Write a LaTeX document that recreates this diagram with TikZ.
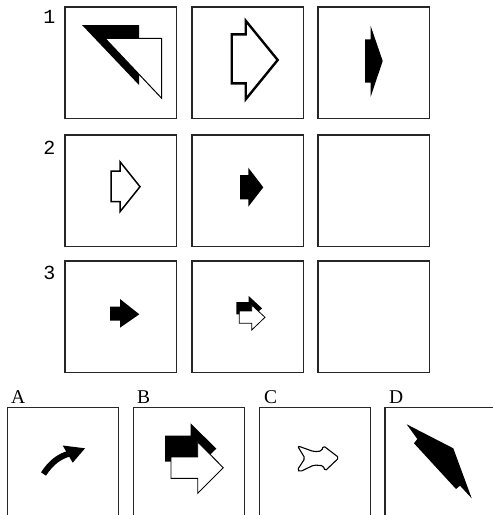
\documentclass[tikz,border=0pt]{standalone}
\usepackage{fontspec}
\newfontfamily\numfont{Liberation Mono}
\newfontfamily\letfont{Liberation Serif}
\begin{document}
\begin{tikzpicture}[x=1pt,y=-1pt,
  frame/.style={draw=black!85,line width=1.3pt},
  outl/.style={draw=black,fill=white,line width=1pt,line join=miter},
  solid/.style={fill=black},
  numlab/.style={font=\numfont\fontsize{20}{20}\selectfont,inner sep=0pt},
  letlab/.style={font=\letfont\fontsize{19.5}{19.5}\selectfont,inner sep=0pt}]
\useasboundingbox (0,0) rectangle (493,515);

% grid frames
\foreach \x in {65,192,318}{
  \foreach \y in {7,135,261}{
    \draw[frame] (\x,\y) rectangle ++(111.5,111.5);
  }
}
\node[numlab,anchor=south] (n1) at (49.5,23.5) {1};
\node[numlab,anchor=south] (n2) at (49.5,154.5) {2};
\node[numlab,anchor=south] (n3) at (49.5,280) {3};

% row 1, box 1
\fill[solid] (82,25) -- (139,25) -- (139,85) -- cycle;
\draw[outl] (105,38.3) -- (161.7,38.3) -- (161.7,98.3) -- cycle;

% row 1, box 2
\draw[outl,line width=2.4pt] (231.7,34.3) -- (245.7,34.3) -- (245.7,20.7) -- (277.7,60)
  -- (245.7,99.3) -- (245.7,83.3) -- (231.7,83.3) -- cycle;

% row 1, box 3
\fill[solid] (365,39.3) -- (370.7,39.3) -- (370.7,26) -- (382.7,61) -- (370.7,96.7)
  -- (370.7,82.7) -- (365,82.7) -- cycle;

% row 2, box 1
\draw[outl,line width=1.5pt] (111,171) -- (120,171) -- (120,161.7) -- (140,186.7)
  -- (120,211.7) -- (120,201.7) -- (111,201.7) -- cycle;

% row 2, box 2
\fill[solid] (240,175) -- (248.3,175) -- (248.3,167.7) -- (263.3,187.3) -- (248.3,206.7)
  -- (248.3,199.3) -- (240,199.3) -- cycle;

% row 3, box 1
\fill[solid] (110,306.7) -- (120,306.7) -- (120,299) -- (139.3,314.3) -- (120,327.7)
  -- (120,320.7) -- (110,320.7) -- cycle;

% row 3, box 2
\begin{scope}[shift={(-3,-9)}]
\fill[solid] (239.3,311) -- (251.7,311) -- (251.7,305) -- (265,317.3) -- (251.7,330)
  -- (251.7,323.3) -- (239.3,323.3) -- cycle;
\end{scope}
\draw[outl,line width=0.8pt] (239.3,311) -- (251.7,311) -- (251.7,305) -- (265,317.3) -- (251.7,330)
  -- (251.7,323.3) -- (239.3,323.3) -- cycle;

% option frames (open at bottom)
\draw[frame] (7.3,515) -- (7.3,407.3) -- (118.3,407.3) -- (118.3,515);
\draw[frame] (133.3,515) -- (133.3,407.3) -- (244.3,407.3) -- (244.3,515);
\draw[frame] (259.3,515) -- (259.3,407.3) -- (370.7,407.3) -- (370.7,515);
\draw[frame] (385,515) -- (385,407.3) -- (493,407.3);

\node[letlab,anchor=south west] (la) at (11,404) {A};
\node[letlab,anchor=south west] (lb) at (137,404) {B};
\node[letlab,anchor=south west] (lc) at (264,404) {C};
\node[letlab,anchor=south west] (ld) at (389,404) {D};

% option A: curved arrow
\draw[line width=6pt] (43.5,474) .. controls (51,462.5) and (59,456.5) .. (69.5,453.5);
\fill[solid] (62.7,445.5) -- (85,448.3) -- (72.7,462.7) -- cycle;

% option B
\fill[solid] (165,435.7) -- (190.7,435.7) -- (190.7,423.3) -- (216.3,448.7) -- (190.7,474)
  -- (190.7,461.7) -- (165,461.7) -- cycle;
\draw[outl,line width=0.9pt] (171,457) -- (197.7,457) -- (197.7,442) -- (223.3,467.7)
  -- (197.7,493.3) -- (197.7,478.3) -- (171,478.3) -- cycle;

% option C
\draw[line width=1.1pt,rounded corners=1.8pt,line join=round]
  (297.3,445.7) -- (314,451.7) -- (321.7,451) -- (323.3,445.7) -- (339,457.7)
  -- (325,471) -- (323.3,465.7) -- (314,465) -- (300,471.7) -- (297.3,470)
  -- (305,458.3) -- cycle;

% option D
\fill[solid] (406.7,424.3) -- (453.3,448.3) -- (471.7,498.3) -- (460,485.7) -- (456,489)
  -- (414,443.3) -- (417.3,439) -- cycle;
\end{tikzpicture}
\end{document}
